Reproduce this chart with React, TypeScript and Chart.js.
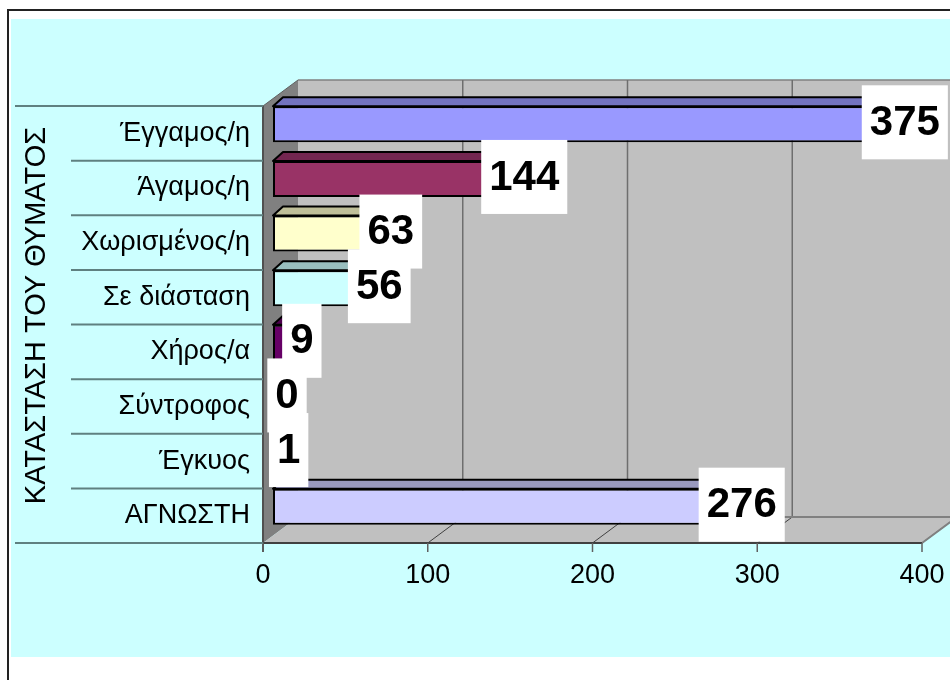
import React, { useEffect, useRef } from "react";
import { Chart, registerables } from "chart.js";

Chart.register(...registerables);

const categories = ["Έγγαμος/η", "Άγαμος/η", "Χωρισμένος/η", "Σε διάσταση", "Χήρος/α", "Σύντροφος", "Έγκυος", "ΑΓΝΩΣΤΗ"];
const values = [375, 144, 63, 56, 9, 0, 1, 276];
const barColors = ["#9999FF", "#993366", "#FFFFCC", "#CCFFFF", "#660066", "#FF8080", "#0066CC", "#CCCCFF"];
const topColors = ["#7373BF", "#732650", "#BFBF99", "#99BFBF", "#4D004D", "#BF6060", "#004D99", "#9999BF"];
const sideColors = ["#5C5C99", "#5C1F3D", "#999979", "#7A9999", "#3D003D", "#994D4D", "#003D7A", "#7A7A99"];
const xTickValues = [0, 100, 200, 300, 400];
const axisTitle = "ΚΑΤΑΣΤΑΣΗ ΤΟΥ ΘΥΜΑΤΟΣ";

const FONT = '"Liberation Sans", Arial, sans-serif';

// 3D offsets: front plane relative to bar plane, back plane relative to front plane
const FDX = -10, FDY = 9, BDX = 35, BDY = -26;
const BAR_DX = 10, BAR_DY = 9;

const scenePlugin = {
  id: "scene3d",
  beforeDraw(chart: any) {
    const ctx = chart.ctx as CanvasRenderingContext2D;
    const { left, top, right, bottom } = chart.chartArea;
    const xs = chart.scales.x;
    const ys = chart.scales.y;
    const W = chart.width, H = chart.height;
    ctx.save();
    ctx.fillStyle = "#FFFFFF";
    ctx.fillRect(0, 0, W, H);
    ctx.fillStyle = "#CCFFFF";
    ctx.fillRect(11, 19, W - 11, 657 - 19);
    ctx.strokeStyle = "#222222";
    ctx.lineWidth = 2;
    ctx.beginPath();
    ctx.moveTo(8, H + 5);
    ctx.lineTo(8, 10);
    ctx.lineTo(W + 5, 10);
    ctx.stroke();

    const FL = left + FDX, FT = top + FDY, FB = bottom + FDY, FR = right + FDX;
    const BL = FL + BDX, BT = FT + BDY, BB = FB + BDY, BR = FR + BDX;

    // back wall
    ctx.fillStyle = "#C0C0C0";
    ctx.fillRect(BL, BT, BR - BL, BB - BT);
    ctx.strokeStyle = "#808080";
    ctx.lineWidth = 1.5;
    ctx.beginPath();
    ctx.moveTo(BL, BT);
    ctx.lineTo(BR, BT);
    ctx.stroke();
    // back wall gridlines
    ctx.strokeStyle = "#6E6E6E";
    ctx.lineWidth = 1.5;
    xTickValues.forEach((v) => {
      if (v === 0) return;
      const gx = xs.getPixelForValue(v) + FDX + BDX;
      ctx.beginPath();
      ctx.moveTo(gx, BT);
      ctx.lineTo(gx, BB);
      ctx.stroke();
    });

    // left wall
    ctx.fillStyle = "#808080";
    ctx.beginPath();
    ctx.moveTo(FL, FT);
    ctx.lineTo(BL, BT);
    ctx.lineTo(BL, BB);
    ctx.lineTo(FL, FB);
    ctx.closePath();
    ctx.fill();
    ctx.strokeStyle = "#606060";
    ctx.lineWidth = 1;
    ctx.beginPath();
    ctx.moveTo(FL, FT);
    ctx.lineTo(BL, BT);
    ctx.stroke();

    // floor
    ctx.fillStyle = "#C0C0C0";
    ctx.beginPath();
    ctx.moveTo(FL, FB);
    ctx.lineTo(BL, BB);
    ctx.lineTo(BR, BB);
    ctx.lineTo(FR, FB);
    ctx.closePath();
    ctx.fill();
    ctx.strokeStyle = "#404040";
    ctx.lineWidth = 1;
    xTickValues.forEach((v) => {
      if (v === 0) return;
      const fx = xs.getPixelForValue(v) + FDX;
      ctx.beginPath();
      ctx.moveTo(fx, FB);
      ctx.lineTo(fx + BDX, BB);
      ctx.stroke();
    });
    ctx.strokeStyle = "#808080";
    ctx.lineWidth = 2;
    ctx.beginPath();
    ctx.moveTo(BL, BB);
    ctx.lineTo(BR, BB);
    ctx.moveTo(FR, FB);
    ctx.lineTo(BR, BB);
    ctx.stroke();
    ctx.strokeStyle = "#404040";
    ctx.beginPath();
    ctx.moveTo(FL, FB);
    ctx.lineTo(FR, FB);
    ctx.stroke();

    // front vertical axis line
    ctx.strokeStyle = "#505050";
    ctx.lineWidth = 2;
    ctx.beginPath();
    ctx.moveTo(FL, FT);
    ctx.lineTo(FL, FB + 9);
    ctx.stroke();
    // x tick marks
    ctx.strokeStyle = "#606060";
    ctx.lineWidth = 1.5;
    xTickValues.forEach((v) => {
      const fx = xs.getPixelForValue(v) + FDX;
      ctx.beginPath();
      ctx.moveTo(fx, FB);
      ctx.lineTo(fx, FB + 9);
      ctx.stroke();
    });

    // category boundary lines on the left
    const n = categories.length;
    const half = (ys.getPixelForValue(1) - ys.getPixelForValue(0)) / 2;
    ctx.strokeStyle = "#5F8080";
    ctx.lineWidth = 2;
    for (let k = 0; k <= n; k++) {
      const yb = (k < n ? ys.getPixelForValue(k) - half : ys.getPixelForValue(n - 1) + half) + FDY;
      const x0 = k === 0 || k === n ? 15 : 71;
      ctx.beginPath();
      ctx.moveTo(x0, yb);
      ctx.lineTo(FL, yb);
      ctx.stroke();
    }
    ctx.restore();
  },
  afterDatasetsDraw(chart: any) {
    const ctx = chart.ctx as CanvasRenderingContext2D;
    const xs = chart.scales.x;
    const meta = chart.getDatasetMeta(0);
    ctx.save();
    ctx.lineJoin = "round";
    meta.data.forEach((el: any, i: number) => {
      if (values[i] <= 0) return;
      const { x, y, base, height } = el.getProps(["x", "y", "base", "height"], true);
      const t = y - height / 2, b = y + height / 2;
      ctx.strokeStyle = "#000000";
      ctx.lineWidth = 2;
      // end face
      ctx.fillStyle = sideColors[i];
      ctx.beginPath();
      ctx.moveTo(x, t);
      ctx.lineTo(x + BAR_DX, t - BAR_DY);
      ctx.lineTo(x + BAR_DX, b - BAR_DY);
      ctx.lineTo(x, b);
      ctx.closePath();
      ctx.fill();
      ctx.stroke();
      // top face
      ctx.fillStyle = topColors[i];
      ctx.beginPath();
      ctx.moveTo(base, t);
      ctx.lineTo(base + BAR_DX, t - BAR_DY);
      ctx.lineTo(x + BAR_DX, t - BAR_DY);
      ctx.lineTo(x, t);
      ctx.closePath();
      ctx.fill();
      ctx.stroke();
    });
    // data labels
    ctx.font = "bold 42px " + FONT;
    ctx.textAlign = "center";
    ctx.textBaseline = "middle";
    meta.data.forEach((el: any, i: number) => {
      const { y } = el.getProps(["y"], true);
      const txt = String(values[i]);
      const w = ctx.measureText(txt).width + 16;
      const cx = xs.getPixelForValue(values[i]) + 14;
      const cy = y - 2;
      ctx.fillStyle = "#FFFFFF";
      ctx.fillRect(cx - w / 2, cy - 37, w, 74);
      ctx.fillStyle = "#000000";
      ctx.fillText(txt, cx, cy + 1);
    });
    ctx.restore();
  },
};

export default function App() {
  const ref = useRef<HTMLCanvasElement | null>(null);
  useEffect(() => {
    if (!ref.current) return;
    Chart.defaults.font.family = FONT;
    const chart = new Chart(ref.current, {
      type: "bar",
      data: {
        labels: categories,
        datasets: [
          {
            data: values,
            backgroundColor: barColors,
            borderColor: "#000000",
            borderWidth: 2,
            borderSkipped: false,
            barPercentage: 0.66,
            categoryPercentage: 1,
          },
        ],
      },
      options: {
        indexAxis: "y",
        responsive: false,
        animation: false,
        devicePixelRatio: 1,
        events: [],
        layout: { padding: { left: 11, top: 97, right: 18, bottom: 0 } },
        plugins: { legend: { display: false }, tooltip: { enabled: false }, title: { display: false } },
        scales: {
          x: {
            type: "linear",
            min: 0,
            max: 400,
            ticks: { stepSize: 100, color: "#000000", font: { size: 27, family: FONT }, padding: 25, labelOffset: -10, maxRotation: 0 },
            grid: { display: false, drawTicks: false },
            border: { display: false },
            afterFit: (s: any) => {
              s.height = 146;
              s.paddingLeft = 0;
              s.paddingRight = 0;
            },
          },
          y: {
            type: "category",
            ticks: { color: "#000000", font: { size: 27, family: FONT }, padding: 23, labelOffset: 9, autoSkip: false },
            grid: { display: false, drawTicks: false },
            border: { display: false },
            title: { display: true, text: axisTitle, color: "#000000", font: { size: 29, family: FONT }, padding: { top: 9, bottom: 0 } },
            afterFit: (s: any) => {
              s.width = 262;
              s.paddingTop = 0;
              s.paddingBottom = 0;
            },
          },
        },
      },
      plugins: [scenePlugin],
    });
    return () => chart.destroy();
  }, []);
  return (
    <div style={{ position: "absolute", left: 0, top: 0, width: 950, height: 680 }}>
      <canvas ref={ref} width={950} height={680} />
    </div>
  );
}
